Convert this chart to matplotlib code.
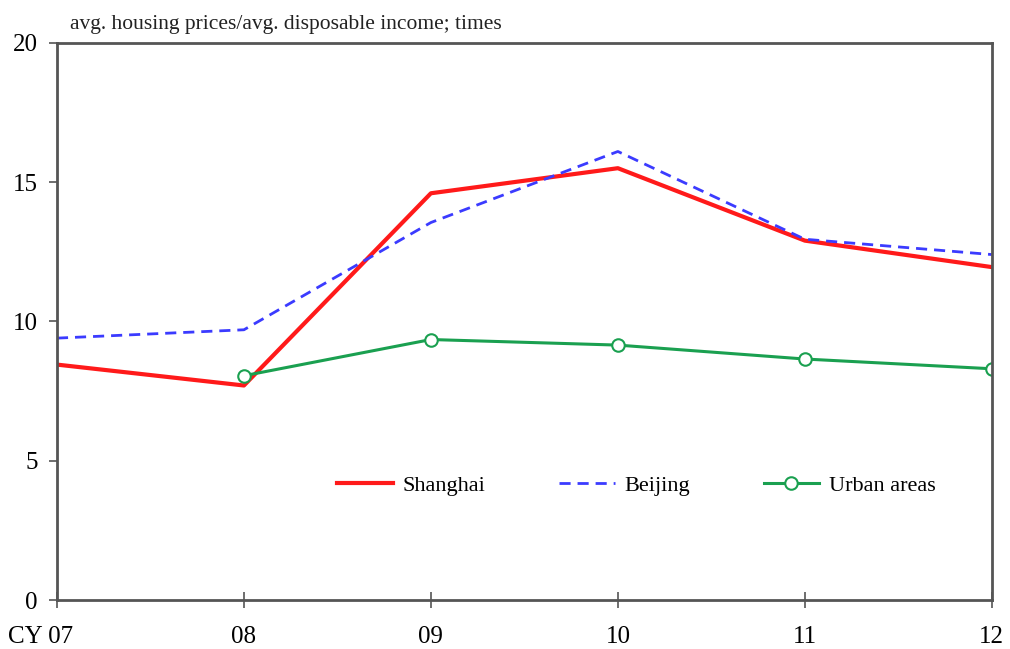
import matplotlib
matplotlib.use("Agg")
import matplotlib.pyplot as plt
import matplotlib.transforms as mtransforms

years = [0, 1, 2, 3, 4, 5]
xlabels = ["CY 07", "08", "09", "10", "11", "12"]
shanghai = [8.45, 7.7, 14.6, 15.5, 12.9, 11.95]
beijing = [9.4, 9.7, 13.55, 16.1, 12.95, 12.4]
urban_x = [1, 2, 3, 4, 5]
urban = [8.05, 9.35, 9.15, 8.65, 8.3]

plt.rcParams['font.family'] = ['Liberation Serif', 'DejaVu Serif']

fig = plt.figure(figsize=(10.10, 6.49), dpi=100)
ax = fig.add_axes([0.0564, 0.0755, 0.9256, 0.8585])

ax.plot(years, shanghai, color='#ff1a1a', lw=3.0, label='Shanghai')
ax.plot(years, beijing, color='#3b3bff', lw=2.0, ls=(0, (4, 2.5)), label='Beijing')
ax.plot(urban_x, urban, color='#1aa050', lw=2.2, marker='o', ms=9,
        markerfacecolor='white', markeredgecolor='#1aa050', markeredgewidth=1.5,
        label='Urban areas')

ax.set_xlim(0, 5)
ax.set_ylim(0, 20)
ax.set_yticks([0, 5, 10, 15, 20])
ax.set_xticks(years)
ax.set_xticklabels(xlabels)

for s in ax.spines.values():
    s.set_color('#555555')
    s.set_linewidth(2)

ax.tick_params(axis='y', direction='out', length=6, width=1.2, color='#555555',
               labelsize=18, pad=8)
ax.tick_params(axis='x', direction='inout', length=12, width=1.2, color='#555555',
               labelsize=18, pad=13)

lab0 = ax.get_xticklabels()[0]
lab0.set_transform(lab0.get_transform() +
                   mtransforms.ScaledTranslation(-0.16, 0, fig.dpi_scale_trans))

ax.text(0.014, 1.015, 'avg. housing prices/avg. disposable income; times',
        transform=ax.transAxes, fontsize=15.5, ha='left', va='bottom', color='#222222')

ax.legend(loc='center', bbox_to_anchor=(0.62, 0.205), ncol=3, frameon=False,
          fontsize=16, handlelength=2.5, columnspacing=3.3, handletextpad=0.45)

fig.savefig('out.png', dpi=100)
